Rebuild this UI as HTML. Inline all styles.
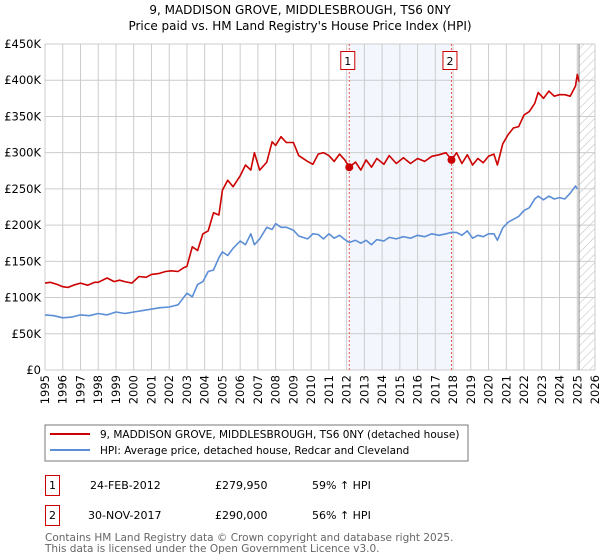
<!DOCTYPE html>
<html><head><meta charset="utf-8"><style>
body{margin:0;background:#fff;font-family:"Liberation Sans","DejaVu Sans",sans-serif;}
#wrap{position:relative;width:600px;height:560px;overflow:hidden;}
</style></head><body>
<div id="wrap">
<svg id="svg" width="600" height="560" xmlns="http://www.w3.org/2000/svg" font-family="DejaVu Sans, Liberation Sans, sans-serif">
<defs><pattern id="hatch" width="6" height="6" patternUnits="userSpaceOnUse" patternTransform="rotate(45)"><line x1="0" y1="0" x2="0" y2="6" stroke="#bbb" stroke-width="1"/></pattern></defs>
<text x="300" y="14" text-anchor="middle" font-size="12" fill="#000">9, MADDISON GROVE, MIDDLESBROUGH, TS6 0NY</text>
<text x="300" y="30" text-anchor="middle" font-size="12" fill="#000">Price paid vs. HM Land Registry's House Price Index (HPI)</text>
<g id="grid"></g><g id="marks"></g><g id="axes"></g>
<rect x="45" y="425" width="423" height="36" fill="#fff" stroke="#777"/>
<line x1="50" y1="434" x2="90" y2="434" stroke="#cc0000" stroke-width="2"/>
<text x="100" y="438" font-size="10.5">9, MADDISON GROVE, MIDDLESBROUGH, TS6 0NY (detached house)</text>
<line x1="50" y1="450" x2="90" y2="450" stroke="#5b8ed6" stroke-width="2"/>
<text x="100" y="454" font-size="10.5">HPI: Average price, detached house, Redcar and Cleveland</text>
<g>
<rect x="45.5" y="475.5" width="14" height="20" fill="#fff" stroke="#cc0000"/>
<text x="52.5" y="489" text-anchor="middle" font-size="11">1</text>
<text x="90" y="489" font-size="11">24-FEB-2012</text>
<text x="215" y="489" font-size="11">£279,950</text>
<text x="312" y="489" font-size="11">59% ↑ HPI</text></g>
<g>
<rect x="45.5" y="505.5" width="14" height="20" fill="#fff" stroke="#cc0000"/>
<text x="52.5" y="519" text-anchor="middle" font-size="11">2</text>
<text x="88" y="519" font-size="11">30-NOV-2017</text>
<text x="215" y="519" font-size="11">£290,000</text>
<text x="312" y="519" font-size="11">56% ↑ HPI</text></g>
<text x="45" y="541" font-size="10.5" fill="#666">Contains HM Land Registry data © Crown copyright and database right 2025.</text>
<text x="45" y="552" font-size="10.5" fill="#666">This data is licensed under the Open Government Licence v3.0.</text>
</svg></div>
<script>
const yTicks=[0,50,100,150,200,250,300,350,400,450];
const yTickLabels=["£0","£50K","£100K","£150K","£200K","£250K","£300K","£350K","£400K","£450K"];
const xYears=[1995,1996,1997,1998,1999,2000,2001,2002,2003,2004,2005,2006,2007,2008,2009,2010,2011,2012,2013,2014,2015,2016,2017,2018,2019,2020,2021,2022,2023,2024,2025,2026];
const redT=[1995,1995.3,1995.7,1996,1996.3,1996.6,1997,1997.4,1997.8,1998,1998.5,1998.9,1999.2,1999.5,1999.9,2000.3,2000.7,2001,2001.4,2001.8,2002.1,2002.5,2002.8,2003,2003.3,2003.6,2003.9,2004.2,2004.5,2004.8,2005,2005.3,2005.6,2006,2006.3,2006.6,2006.8,2007.1,2007.5,2007.8,2008,2008.3,2008.6,2009,2009.3,2009.8,2010.1,2010.4,2010.7,2011,2011.3,2011.6,2011.9,2012.15,2012.5,2012.8,2013.1,2013.4,2013.7,2014.1,2014.4,2014.8,2015.2,2015.6,2016,2016.4,2016.8,2017.2,2017.6,2017.91,2018.2,2018.5,2018.8,2019.1,2019.4,2019.7,2020,2020.3,2020.5,2020.8,2021.1,2021.4,2021.7,2022,2022.3,2022.6,2022.8,2023.1,2023.4,2023.7,2024,2024.3,2024.6,2024.9,2025.0,2025.1];
const redV=[120,121,118,115,114,117,120,117,121,121,127,122,124,122,120,129,128,132,133,136,137,136,141,143,170,165,188,192,217,214,248,262,253,268,283,276,300,276,287,315,310,322,314,314,296,288,284,298,300,296,288,298,290,280,287,276,290,280,292,284,296,285,293,285,292,288,295,297,300,290,300,285,297,283,292,286,295,298,283,312,325,334,336,352,357,368,383,375,385,378,380,380,378,392,408,398];
const blueT=[1995,1995.5,1996,1996.5,1997,1997.5,1998,1998.5,1999,1999.5,2000,2000.5,2001,2001.5,2002,2002.5,2003,2003.3,2003.6,2003.9,2004.2,2004.5,2004.8,2005,2005.3,2005.6,2006,2006.3,2006.6,2006.8,2007.1,2007.5,2007.8,2008,2008.3,2008.6,2009,2009.3,2009.8,2010.1,2010.4,2010.7,2011,2011.3,2011.6,2011.9,2012.15,2012.5,2012.8,2013.1,2013.4,2013.7,2014.1,2014.4,2014.8,2015.2,2015.6,2016,2016.4,2016.8,2017.2,2017.6,2017.91,2018.2,2018.5,2018.8,2019.1,2019.4,2019.7,2020,2020.3,2020.5,2020.8,2021.1,2021.4,2021.7,2022,2022.3,2022.6,2022.8,2023.1,2023.4,2023.7,2024,2024.3,2024.6,2024.9,2025.0,2025.1];
const blueV=[76,75,72,73,76,75,78,76,80,78,80,82,84,86,87,90,106,101,118,122,136,138,155,163,158,168,178,173,188,173,181,197,194,202,197,197,193,185,181,188,187,181,188,182,186,180,176,179,175,179,173,180,178,183,181,184,182,186,184,188,186,188,190,190,186,192,182,186,184,188,188,179,196,204,208,212,220,224,236,240,235,240,236,238,236,244,254,250];
const sales=[[2012.15,279.95],[2017.91,290]];
const X0=45,X1=595,Y0=370,Y1=44;
const sx=t=>X0+(t-1995)*(X1-X0)/31, sy=v=>Y0-(v/450)*(Y0-Y1);
const NS="http://www.w3.org/2000/svg";
function mk(tag,attrs,parent){const e=document.createElementNS(NS,tag);for(const k in attrs)e.setAttribute(k,attrs[k]);parent.appendChild(e);return e;}
const grid=document.getElementById('grid'),marks=document.getElementById('marks'),axes=document.getElementById('axes');
let e=mk('rect',{x:sx(2012.15),y:Y1,width:sx(2017.91)-sx(2012.15),height:Y0-Y1,fill:'#eef3fc',opacity:0.7},grid);


e=mk('rect',{x:sx(2025.1),y:Y1,width:X1-sx(2025.1),height:Y0-Y1,fill:'url(#hatch)'},grid);


xYears.forEach(y=>{mk('line',{x1:sx(y),x2:sx(y),y1:Y1,y2:Y0,stroke:'#ccc','stroke-width':1},grid);
 const t=mk('text',{x:0,y:0,'font-size':11.5,'text-anchor':'end',transform:`translate(${sx(y)+4},${Y0+5}) rotate(-90)`},axes);t.textContent=y;
 
 });
yTicks.forEach((v,i)=>{mk('line',{x1:X0,x2:X1,y1:sy(v),y2:sy(v),stroke:'#ccc','stroke-width':1},grid);
 const t=mk('text',{x:X0-4,y:sy(v)+4,'font-size':11.5,'text-anchor':'end'},axes);t.textContent=yTickLabels[i];
 
 });
e=mk('line',{x1:sx(2025.1),x2:sx(2025.1),y1:Y1,y2:Y0,stroke:'#888','stroke-width':1},grid);


sales.forEach((s,i)=>{const l=mk('line',{x1:sx(s[0]),x2:sx(s[0]),y1:Y1,y2:Y0,stroke:'#e55','stroke-width':1,'stroke-dasharray':'2,2'},grid);
 
 
 const bx=sx(s[0])-8;
 const g=mk('g',{},axes);
 
 
 mk('rect',{x:bx-0.5,y:51.5,width:14,height:18,fill:'#fff',stroke:'#cc0000'},g);
 const t=mk('text',{x:bx+6.5,y:65,'font-size':11,'text-anchor':'middle'},g);t.textContent=i+1;});
function line(T,V,col,name){const d=T.map((t,i)=>(i?'L':'M')+sx(t).toFixed(1)+','+sy(V[i]).toFixed(1)).join('');
 const p=mk('path',{d:d,fill:'none',stroke:col,'stroke-width':1.6,'stroke-linejoin':'round'},marks);
 
 }
line(blueT,blueV,'#5b8ed6','hpi-line');
line(redT,redV,'#cc0000','property-price-line');
sales.forEach((s,i)=>{const c=mk('circle',{cx:sx(s[0]),cy:sy(s[1]),r:4,fill:'#cc0000'},marks);
 
 });
</script>
</body></html>
